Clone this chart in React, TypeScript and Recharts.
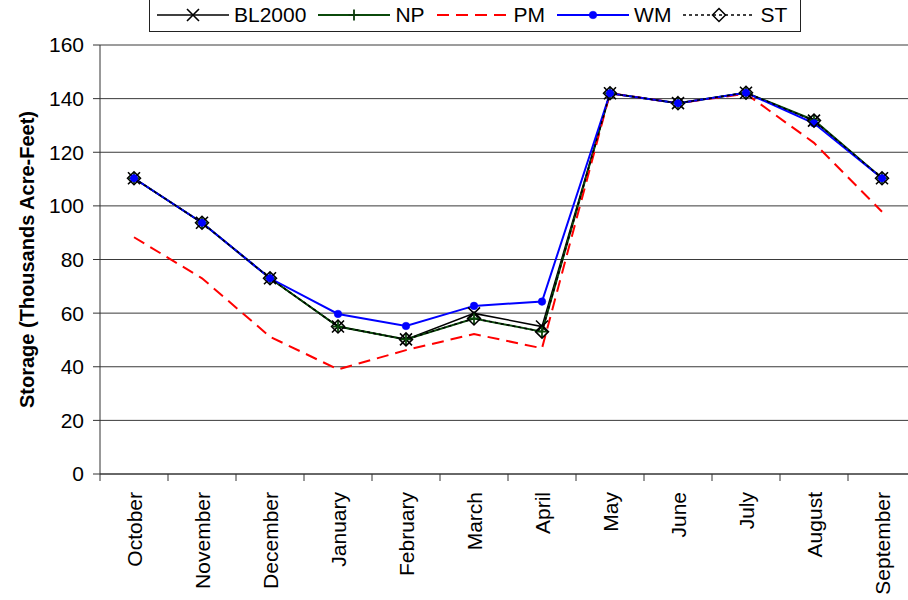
import React from 'react';
import { LineChart, Line, XAxis, YAxis, CartesianGrid } from 'recharts';

const MONTHS = ['October', 'November', 'December', 'January', 'February', 'March', 'April', 'May', 'June', 'July', 'August', 'September'];
const BL2000 = [110.3, 93.7, 73, 55, 50.2, 59.9, 55, 142, 138.3, 142.2, 131.8, 110.3];
const NP = [110.3, 93.7, 73, 55, 50.2, 58, 53.1, 142, 138.3, 142.2, 132, 110.3];
const PM = [88.3, 73, 51.2, 39, 46.2, 52.2, 46.9, 142, 138.3, 141.8, 123.5, 97.8];
const WM = [110.3, 93.7, 73, 59.7, 55.2, 62.7, 64.3, 142, 138.3, 142.2, 130.8, 110.3];
const ST = [110.3, 93.7, 73, 55, 50.2, 58, 53.1, 142, 138.3, 142.2, 131.8, 110.3];
const Y_TICKS = [0, 20, 40, 60, 80, 100, 120, 140, 160];
const Y_LABEL = 'Storage (Thousands Acre-Feet)';

const FONT = '"Liberation Sans", Arial, Helvetica, sans-serif';
const CHART_W = 930;
const CHART_H = 600;
const Y_AXIS_W = 100;
const MARGIN = { top: 45, right: 14, bottom: 0, left: 0 };
const X_AXIS_H = 126;
const PLOT_W = CHART_W - MARGIN.left - MARGIN.right - Y_AXIS_W;
const BAND = PLOT_W / MONTHS.length;

const data = MONTHS.map((m, i) => ({
  month: m,
  BL2000: BL2000[i],
  NP: NP[i],
  PM: PM[i],
  WM: WM[i],
  ST: ST[i],
}));

type MarkerKind = 'x' | 'plus' | 'circle' | 'diamond' | 'none';

const Marker = ({ kind, cx, cy, color }: { kind: MarkerKind; cx: number; cy: number; color: string }) => {
  if (cx == null || cy == null) return null;
  if (kind === 'x') {
    const h = 6;
    return (
      <path d={`M${cx - h},${cy - h}L${cx + h},${cy + h}M${cx - h},${cy + h}L${cx + h},${cy - h}`} stroke={color} strokeWidth={1.6} fill="none" />
    );
  }
  if (kind === 'plus') {
    const h = 5.5;
    return (
      <path d={`M${cx - h},${cy}L${cx + h},${cy}M${cx},${cy - h}L${cx},${cy + h}`} stroke={color} strokeWidth={1.8} fill="none" />
    );
  }
  if (kind === 'circle') {
    return <circle cx={cx} cy={cy} r={3.8} fill={color} stroke={color} strokeWidth={0.5} />;
  }
  if (kind === 'diamond') {
    const h = 6.5;
    return (
      <path d={`M${cx},${cy - h}L${cx + h},${cy}L${cx},${cy + h}L${cx - h},${cy}Z`} stroke={color} strokeWidth={1.5} fill="none" />
    );
  }
  return null;
};

const SERIES: { key: string; color: string; width: number; dash?: string; marker: MarkerKind }[] = [
  { key: 'BL2000', color: '#000000', width: 1.5, marker: 'x' },
  { key: 'NP', color: '#0b4a0b', width: 2, marker: 'plus' },
  { key: 'PM', color: '#ff0000', width: 2, dash: '12 7', marker: 'none' },
  { key: 'WM', color: '#0000ff', width: 2, marker: 'circle' },
  { key: 'ST', color: '#000000', width: 1.5, dash: '3 3', marker: 'diamond' },
];

const LEGEND_MARKER_COLOR: Record<string, string> = { BL2000: '#000000', NP: '#0b3a0b', PM: '#ff0000', WM: '#0000ff', ST: '#000000' };

const LegendBox = () => (
  <div
    style={{
      position: 'absolute',
      left: 149,
      top: -3,
      width: 652,
      height: 35,
      boxSizing: 'border-box',
      border: '1px solid #222',
      background: '#fff',
      display: 'flex',
      alignItems: 'center',
      paddingLeft: 7,
      fontFamily: FONT,
      fontSize: 21,
      lineHeight: '21px',
      color: '#000',
      whiteSpace: 'nowrap',
    }}
  >
    {SERIES.map((s) => (
      <div key={s.key} style={{ display: 'flex', alignItems: 'center', marginRight: 12 }}>
        <svg width={72} height={20} style={{ display: 'block' }}>
          <line x1={0} x2={72} y1={10} y2={10} stroke={s.color} strokeWidth={s.width} strokeDasharray={s.dash === '12 7' ? '12 7' : s.dash} />
          <Marker kind={s.marker} cx={36} cy={10} color={LEGEND_MARKER_COLOR[s.key]} />
        </svg>
        <span style={{ marginLeft: 5 }}>{s.key}</span>
      </div>
    ))}
  </div>
);

const MonthTick = (props: any) => {
  const { x, y, payload, index } = props;
  const half = BAND / 2;
  return (
    <g>
      <line x1={x - half} x2={x - half} y1={y} y2={y + 7} stroke="#333" strokeWidth={1} />
      {index === MONTHS.length - 1 && <line x1={x + half} x2={x + half} y1={y} y2={y + 7} stroke="#333" strokeWidth={1} />}
      <text
        transform={`translate(${x},${y + 18}) rotate(-90)`}
        textAnchor="end"
        dominantBaseline="central"
        fontSize={21}
        fontFamily={FONT}
        fill="#000"
      >
        {payload.value}
      </text>
    </g>
  );
};

const YLabel = (props: any) => {
  const vb = props.viewBox || { x: 0, y: MARGIN.top, width: Y_AXIS_W, height: 429 };
  const cx = vb.x + 27;
  const cy = vb.y + vb.height / 2;
  return (
    <text
      transform={`translate(${cx},${cy}) rotate(-90)`}
      textAnchor="middle"
      dominantBaseline="central"
      fontSize={20}
      fontWeight="bold"
      fontFamily={FONT}
      fill="#000"
    >
      {Y_LABEL}
    </text>
  );
};

export default function App() {
  return (
    <div style={{ position: 'absolute', left: 0, top: 0, width: 908, height: 600, overflow: 'hidden', background: '#fff' }}>
      <LineChart width={CHART_W} height={CHART_H} data={data} margin={MARGIN}>
        <CartesianGrid vertical={false} stroke="#3a3a3a" strokeWidth={1} />
        <XAxis
          dataKey="month"
          interval={0}
          tickSize={0}
          tickMargin={0}
          tickLine={false}
          axisLine={{ stroke: '#333', strokeWidth: 1 }}
          height={X_AXIS_H}
          padding={{ left: BAND / 2, right: BAND / 2 }}
          tick={<MonthTick />}
        />
        <YAxis
          domain={[0, 160]}
          ticks={Y_TICKS}
          interval={0}
          width={Y_AXIS_W}
          tickSize={7}
          tickMargin={9}
          axisLine={{ stroke: '#333', strokeWidth: 1 }}
          tickLine={{ stroke: '#333', strokeWidth: 1 }}
          tick={{ fontSize: 21, fill: '#000', fontFamily: FONT }}
          label={<YLabel />}
        />
        {SERIES.map((s) => (
          <Line
            key={s.key}
            type="linear"
            dataKey={s.key}
            stroke={s.color}
            strokeWidth={s.width}
            strokeDasharray={s.dash}
            isAnimationActive={false}
            dot={
              s.marker === 'none'
                ? false
                : (p: any) => <Marker key={`${s.key}-${p.index}`} kind={s.marker} cx={p.cx} cy={p.cy} color={s.color} />
            }
            activeDot={false}
          />
        ))}
      </LineChart>
      <LegendBox />
    </div>
  );
}
